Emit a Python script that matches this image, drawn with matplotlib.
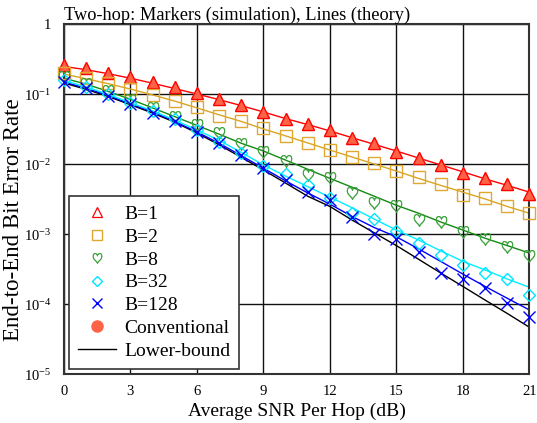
import numpy as np
import matplotlib
matplotlib.use("Agg")
import matplotlib.pyplot as plt
from matplotlib.lines import Line2D
from matplotlib.ticker import FixedLocator, FixedFormatter

plt.rcParams["font.family"] = ["Liberation Serif", "DejaVu Serif"]
plt.rcParams["mathtext.fontset"] = "custom"
plt.rcParams["mathtext.rm"] = "Liberation Serif"
plt.rcParams["mathtext.it"] = "Liberation Serif:italic"

snr_db = list(range(0, 22))

# theory curves (lines)
b1_theory = [0.25, 0.225, 0.197, 0.170, 0.144, 0.121, 0.101, 0.084, 0.069, 0.056, 0.045,
             0.037, 0.030, 0.024, 0.0193, 0.0155, 0.0123, 0.0098, 0.0078, 0.0062, 0.0050, 0.0040]
b2_theory = [0.195, 0.167, 0.142, 0.119, 0.098, 0.080, 0.064, 0.051, 0.041, 0.032, 0.0255,
             0.0202, 0.0160, 0.0127, 0.0101, 0.0080, 0.0063, 0.0050, 0.0040, 0.0032, 0.0025, 0.0020]
b8_theory = [0.170, 0.14, 0.11, 0.085, 0.064, 0.048, 0.036, 0.027, 0.020, 0.0155, 0.0115,
             0.0085, 0.0063, 0.0047, 0.0035, 0.0026, 0.0020, 0.0015, 0.00115, 0.00088, 0.00069, 0.00054]
b32_theory = [0.158, 0.128, 0.100, 0.076, 0.058, 0.043, 0.031, 0.022, 0.0148, 0.0098, 0.0068,
              0.0048, 0.0034, 0.0024, 0.00165, 0.00115, 0.00083, 0.00058, 0.00041, 0.00031, 0.00023, 0.000175]
b128_theory = [0.150, 0.122, 0.096, 0.073, 0.056, 0.041, 0.029, 0.020, 0.0133, 0.0088, 0.0058,
               0.0039, 0.0027, 0.0018, 0.00125, 0.00092, 0.00062, 0.00041, 0.00027, 0.00018, 0.000122, 8.3e-5]
lower_bound = [0.145, 0.118, 0.093, 0.071, 0.054, 0.040, 0.028, 0.019, 0.0126, 0.0083, 0.0054,
               0.0035, 0.0025, 0.0016, 0.00105, 0.00069, 0.00044, 0.00028, 0.00018, 0.000115, 7.4e-5, 4.7e-5]

# simulation points (markers)
b1_sim = [0.26, 0.235, 0.203, 0.175, 0.149, 0.126, 0.103, 0.085, 0.070, 0.056, 0.045,
          0.0376, 0.031, 0.0235, 0.020, 0.0151, 0.0122, 0.0098, 0.0074, 0.0063, 0.0053, 0.0038]
b2_sim = [0.20, 0.169, 0.143, 0.118, 0.098, 0.080, 0.065, 0.049, 0.041, 0.033, 0.025,
          0.0204, 0.016, 0.0128, 0.0103, 0.0080, 0.0065, 0.0053, 0.0037, 0.0033, 0.0025, 0.0020]
b8_sim = [0.178, 0.142, 0.112, 0.083, 0.063, 0.048, 0.036, 0.028, 0.0195, 0.015, 0.0112,
          0.0070, 0.0063, 0.0039, 0.0028, 0.0025, 0.0016, 0.0015, 0.00109, 0.00085, 0.00066, 0.00049]
b32_sim = [0.16, 0.128, 0.10, 0.076, 0.058, 0.044, 0.031, 0.021, 0.0145, 0.0095, 0.0073,
           0.0051, 0.0033, 0.0020, 0.00165, 0.0011, 0.00074, 0.0005, 0.00037, 0.00028, 0.00023, 0.000135]
b128_sim = [0.151, 0.122, 0.095, 0.072, 0.055, 0.041, 0.029, 0.020, 0.0135, 0.0088, 0.0059,
            0.0040, 0.0031, 0.00178, 0.0010, 0.00085, 0.00056, 0.00028, 0.00023, 0.00017, 0.000105, 6.6e-5]
conventional_sim = [0.26, 0.235, 0.203, 0.175, 0.149, 0.126, 0.103, 0.085, 0.070, 0.056, 0.045,
                    0.0376, 0.031, 0.0235, 0.020, 0.0151, 0.0122, 0.0098, 0.0074, 0.0063, 0.0053, 0.0038]

x_ticks = [0, 3, 6, 9, 12, 15, 18, 21]
y_ticks = [1e-5, 1e-4, 1e-3, 1e-2, 1e-1, 1]
y_tick_labels = ["10$^{-5}$", "10$^{-4}$", "10$^{-3}$", "10$^{-2}$", "10$^{-1}$", "1"]

fig = plt.figure(figsize=(5.37, 4.23), dpi=100)
ax = fig.add_axes([0.119, 0.115, 0.867, 0.8275])

# theory lines
ax.plot(snr_db, lower_bound, color="black", lw=1.0, zorder=2)
ax.plot(snr_db, b128_theory, color="#0000ff", lw=1.0, zorder=2)
ax.plot(snr_db, b32_theory, color="#00eeff", lw=1.0, zorder=2)
ax.plot(snr_db, b8_theory, color="#138a13", lw=1.0, zorder=2)
ax.plot(snr_db, b2_theory, color="#daa520", lw=1.0, zorder=2)
ax.plot(snr_db, b1_theory, color="#ff0000", lw=1.0, zorder=2)

# simulation markers
mk = dict(ls="none", clip_on=False)
ax.plot(snr_db, conventional_sim, marker="^", ms=9, mfc="#ff6347", mec="#ff6347", zorder=3, **mk)
ax.plot(snr_db, b1_sim, marker="^", ms=9, mfc="none", mec="#ff0000", mew=0.9, zorder=4, **mk)
ax.plot(snr_db, b2_sim, marker="s", ms=8, mfc="none", mec="#e0a830", mew=1.0, zorder=4, **mk)
ax.plot(snr_db, b8_sim, marker=r"$\heartsuit$", ms=9, color="#3aa03a", mew=0.4, zorder=4, **mk)
ax.plot(snr_db, b32_sim, marker="D", ms=6.5, mfc="none", mec="#00e5ff", mew=1.0, zorder=4, **mk)
ax.plot(snr_db, b128_sim, marker="x", ms=8, mec="#0000ff", mew=1.0, zorder=4, **mk)

ax.set_yscale("log")
ax.set_xlim(0, 21)
ax.set_ylim(1e-5, 1)
ax.xaxis.set_major_locator(FixedLocator(x_ticks))
ax.yaxis.set_major_locator(FixedLocator(y_ticks))
ax.yaxis.set_major_formatter(FixedFormatter(y_tick_labels))
ax.yaxis.set_minor_locator(FixedLocator([]))
ax.tick_params(axis="both", which="both", length=0, labelsize=10.5)
ax.tick_params(axis="x", pad=8)
ax.tick_params(axis="y", pad=9)
ax.grid(True, color="#111111", lw=1.0)
ax.set_axisbelow(True)
for sp in ax.spines.values():
    sp.set_color("#333333")
    sp.set_linewidth(1.5)

ax.set_xlabel("Average SNR Per Hop (dB)", fontsize=14, labelpad=3)
fig.text(14 / 537, 1 - 220 / 423, "End-to-End Bit Error Rate", fontsize=16.5,
         rotation=90, ha="center", va="center")
ax.set_title("Two-hop: Markers (simulation), Lines (theory)", fontsize=13.2, loc="left", pad=3)

handles = [
    Line2D([], [], ls="none", marker="^", ms=7.5, mfc="none", mec="#ff0000", mew=0.9),
    Line2D([], [], ls="none", marker="s", ms=7, mfc="none", mec="#e0a830", mew=1.0),
    Line2D([], [], ls="none", marker=r"$\heartsuit$", ms=7.5, color="#3aa03a", mew=0.4),
    Line2D([], [], ls="none", marker="D", ms=5.5, mfc="none", mec="#00e5ff", mew=1.0),
    Line2D([], [], ls="none", marker="x", ms=7, mec="#0000ff", mew=1.0),
    Line2D([], [], ls="none", marker="o", ms=8, mfc="#ff6347", mec="#ff6347"),
    Line2D([], [], color="black", lw=1.0),
]
labels = ["B=1", "B=2", "B=8", "B=32", "B=128", "Conventional", "Lower-bound"]
leg = ax.legend(handles, labels, loc="lower left", bbox_to_anchor=(0.011, 0.016),
                borderaxespad=0, fontsize=14, frameon=True, fancybox=False,
                edgecolor="#333333", framealpha=1, labelspacing=0.27,
                handlelength=1.95, handletextpad=0.45, borderpad=0.45)
leg.get_frame().set_linewidth(1.2)

fig.savefig("out.png", dpi=100)
